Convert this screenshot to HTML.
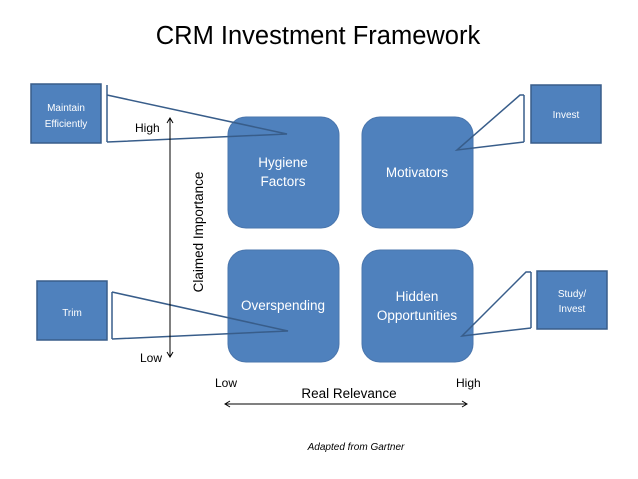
<!DOCTYPE html>
<html><head><meta charset="utf-8"><style>
html,body{margin:0;padding:0;background:#fff;}
svg{display:block;}
text{font-family:"Liberation Sans",sans-serif;}
</style></head><body>
<svg width="638" height="479" viewBox="0 0 638 479" xmlns="http://www.w3.org/2000/svg">
<text x="318" y="44" font-size="25.5" text-anchor="middle" fill="#000">CRM Investment Framework</text>
<g fill="#4f81bd" stroke="#4a76ad" stroke-width="1">
<rect x="228" y="117" width="111" height="111" rx="18"/>
<rect x="362" y="117" width="111" height="111" rx="18"/>
<rect x="228" y="250" width="111" height="112" rx="18"/>
<rect x="362" y="250" width="111" height="112" rx="18"/>
</g>
<g fill="#4f81bd" stroke="#385d8a" stroke-width="1.5">
<rect x="31" y="84" width="70" height="59"/>
<rect x="37" y="281" width="70" height="59"/>
<rect x="531" y="85" width="70" height="58"/>
<rect x="537" y="271" width="70" height="58"/>
</g>
<g fill="none" stroke="#385d8a" stroke-width="1.5">
<polyline points="107,85 107,142"/><polyline points="107,95 287,134 107,142"/>
<polyline points="112,292 112,339"/><polyline points="112,292 288,331 112,339"/>
<polyline points="524,95 524,142"/><polyline points="524,95 520,95 457,150 524,142"/>
<polyline points="531,272 531,328"/><polyline points="531,272 526,272 462,336 531,328"/>
</g>
<g fill="#fff" font-size="13.5" text-anchor="middle">
<text x="283" y="167">Hygiene</text><text x="283" y="186">Factors</text>
<text x="417" y="177">Motivators</text>
<text x="283" y="310">Overspending</text>
<text x="417" y="301">Hidden</text><text x="417" y="320">Opportunities</text>
</g>
<g fill="#fff" font-size="10" text-anchor="middle">
<text x="66" y="111">Maintain</text><text x="66" y="127">Efficiently</text>
<text x="72" y="316">Trim</text>
<text x="566" y="118">Invest</text>
<text x="572" y="297">Study/</text><text x="572" y="312">Invest</text>
</g>
<g stroke="#000" stroke-width="1" fill="none">
<line x1="170" y1="118" x2="170" y2="357"/>
<polyline points="167,123 170,118 173,123"/>
<polyline points="167,352 170,357 173,352"/>
<line x1="225" y1="404" x2="467" y2="404"/>
<polyline points="230,401 225,404 230,407"/>
<polyline points="462,401 467,404 462,407"/>
</g>
<g fill="#000">
<text x="135" y="132" font-size="12">High</text>
<text x="140" y="362" font-size="12">Low</text>
<text x="0" y="0" font-size="13.5" text-anchor="middle" transform="translate(203,232) rotate(-90)">Claimed Importance</text>
<text x="215" y="387" font-size="12">Low</text>
<text x="456" y="387" font-size="12">High</text>
<text x="349" y="398" font-size="13.5" text-anchor="middle">Real Relevance</text>
<text x="356" y="450" font-size="10" font-style="italic" text-anchor="middle">Adapted from Gartner</text>
</g>
</svg>
</body></html>
